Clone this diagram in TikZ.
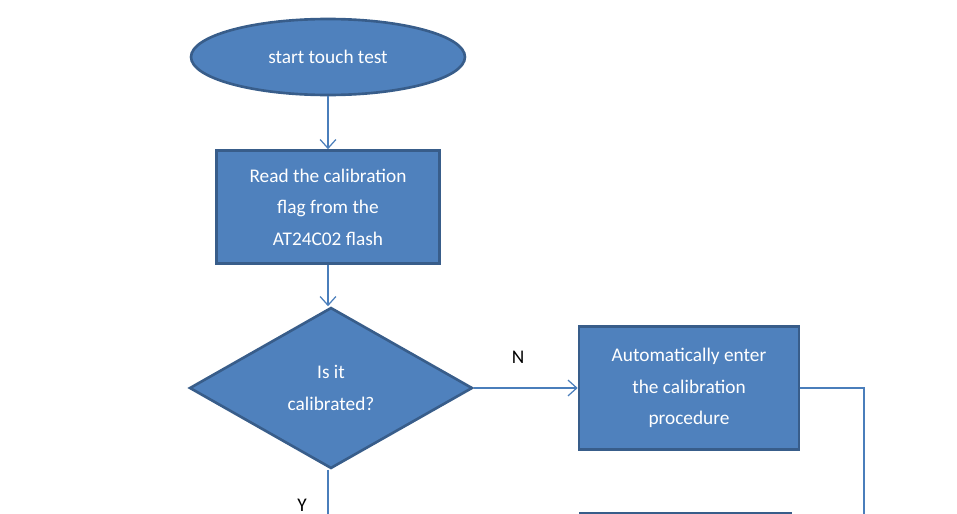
\documentclass[tikz,border=0pt]{standalone}
\usepackage{fontspec}
\setmainfont{Carlito}
\usetikzlibrary{shapes.geometric,arrows.meta}
\definecolor{fillb}{HTML}{4F81BD}
\definecolor{edgeb}{HTML}{385D8A}
\definecolor{linkb}{HTML}{4A7EBB}
\begin{document}
\begin{tikzpicture}[x=0.02cm,y=-0.02cm,
  box/.style={draw=edgeb,line width=1.5pt,fill=fillb,text=white,font=\fontsize{11pt}{18pt}\selectfont,align=center,inner sep=0pt},
  link/.style={draw=linkb,line width=0.7pt,-{Straight Barb[length=5pt,width=9pt]}},
  line/.style={draw=linkb,line width=0.7pt},
  lab/.style={font=\fontsize{11pt}{13pt}\selectfont}]
\useasboundingbox (0,0) rectangle (957,514);
\clip (0,0) rectangle (957,514);
\node[box,ellipse,minimum width=274\pgflinewidth*0+5.48cm,minimum height=1.52cm] (start) at (328,57) {start touch test};
\node[box,rectangle,minimum width=4.46cm,minimum height=2.26cm] (read) at (328,207) {Read the calibration\\flag from the\\AT24C02 flash};
\node[box,diamond,minimum width=5.66cm,minimum height=3.22cm,aspect=1.76] (cal) at (331,388) {Is it\\calibrated?};
\node[box,rectangle,minimum width=4.4cm,minimum height=2.46cm] (auto) at (689,388) {Automatically enter\\the calibration\\procedure};
\node[box,rectangle,minimum width=4.2cm,minimum height=2cm,anchor=north west] (next) at (579,512) {};
\coordinate (c1) at (864,388);
\coordinate (c2) at (864,530);
\coordinate (c3) at (328,530);
\draw[link] (start.south) -- (start.south |- read.north);
\draw[link] (read.south) -- (read.south |- cal.north);
\draw[link] (cal.east) -- (auto.west);
\draw[line] (auto.east) -- (c1) -- (c2);
\draw[line] (cal.south -| c3) -- (c3);
\node[lab] (n) at (518,357) {N};
\node[lab] (y) at (302,505) {Y};
\end{tikzpicture}
\end{document}
